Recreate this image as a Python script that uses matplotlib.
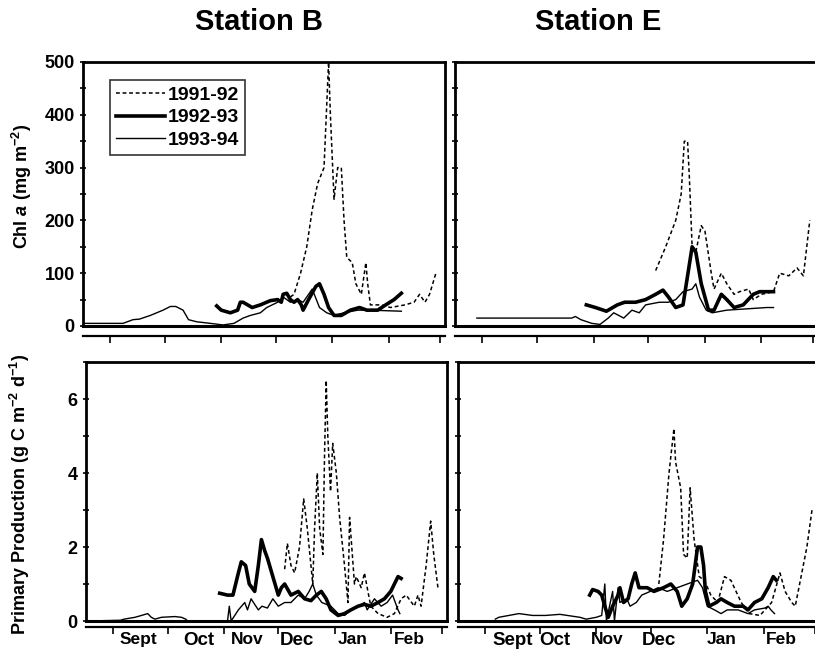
import matplotlib
matplotlib.use("Agg")
import matplotlib.pyplot as plt
from matplotlib.ticker import MultipleLocator

plt.rcParams['font.family'] = ['Liberation Sans', 'DejaVu Sans']
plt.rcParams['mathtext.fontset'] = 'custom'
plt.rcParams['mathtext.rm'] = 'Liberation Sans:bold'
plt.rcParams['mathtext.it'] = 'Liberation Sans:italic:bold'
plt.rcParams['mathtext.bf'] = 'Liberation Sans:bold'

# days counted from 1 September
month_starts = [0, 30, 61, 91, 122, 153, 181]
month_names = ["Sept", "Oct", "Nov", "Dec", "Jan", "Feb"]
seasons = ["1991-92", "1992-93", "1993-94"]

# ---- Station B, Chl a (mg m-2)
b_chl_9192_d = [99, 101, 104.6, 108, 111, 114, 117.5, 120, 121, 123, 125, 127, 128.5, 130,
                133, 135, 138, 140.5, 141.5, 143, 149, 154, 162, 167, 170, 173, 175.5, 179]
b_chl_9192_v = [55, 60, 100, 150, 220, 270, 300, 500, 400, 240, 300, 300, 200, 130,
                120, 80, 60, 120, 80, 40, 40, 35, 40, 45, 60, 45, 60, 100]
b_chl_9293_d = [58.5, 61, 66, 70, 71.5, 73, 78, 82.5, 88, 92, 94, 95, 97, 99, 101, 103, 105,
                106, 109, 113, 115, 117.5, 120, 123, 127, 132, 137, 141, 147, 150.5, 156, 160]
b_chl_9293_v = [38, 30, 25, 30, 45, 45, 35, 40, 48, 50, 45, 60, 62, 50, 45, 50, 40,
                30, 50, 75, 80, 60, 35, 20, 20, 30, 35, 30, 30, 38, 50, 62]
b_chl_9394_d = [-15, 7, 12.5, 16, 22, 29, 33, 36, 40, 43, 47.5, 55, 62, 68, 73, 77, 82.5, 86,
                92, 95, 99, 103, 106, 111, 115, 119, 123, 128.5, 136, 143, 160]
b_chl_9394_v = [5, 5, 12, 13, 20, 30, 37, 37, 30, 12, 8, 5, 2, 5, 15, 20, 25, 35,
                45, 55, 45, 50, 45, 70, 35, 25, 20, 25, 30, 30, 28]

# ---- Station E, Chl a (mg m-2)
e_chl_9192_d = [95, 100.5, 106, 109, 110.7, 112.5, 113.5, 115, 117, 120, 122, 125.5, 127,
                131, 134, 138, 141, 146, 148.5, 153, 159.6, 163, 168, 172.5, 176, 179.5]
e_chl_9192_v = [105, 150, 200, 250, 350, 350, 280, 150, 140, 190, 180, 100, 70,
                100, 80, 60, 65, 70, 50, 60, 65, 100, 95, 110, 95, 200]
e_chl_9293_d = [57, 62, 68, 74, 78, 84, 89.5, 95, 99, 102, 106, 110, 115, 117, 120, 124,
                127, 131, 134, 138, 143, 148.5, 152, 159.6]
e_chl_9293_v = [40, 35, 28, 40, 45, 45, 50, 60, 68, 55, 35, 40, 150, 140, 80, 30,
                30, 60, 50, 35, 40, 60, 65, 65]
e_chl_9394_d = [-3, 49, 51, 54, 60, 64.5, 69, 72, 77.5, 82, 86, 89.5, 97, 102, 106, 110,
                115, 117, 119, 122.7, 126, 134, 156, 159.6]
e_chl_9394_v = [15, 15, 18, 12, 5, 3, 15, 25, 15, 30, 25, 40, 45, 45, 50, 65,
                70, 80, 55, 30, 25, 30, 35, 35]

# ---- Station B, Primary production (g C m-2 d-1)
b_pp_9192_d = [94.5, 96, 98, 100, 102.7, 105, 107, 109, 110, 111, 112.5, 113.8, 115.6, 116.5,
               117.4, 118.3, 119.8, 121, 123, 124.8, 127.5, 129.4, 130.3, 133, 134, 136.7,
               138.5, 140.4, 142, 146, 151, 155, 158.7, 161.5, 166, 168, 169.7, 172.5, 175,
               176.7, 179]
b_pp_9192_v = [1.4, 2.1, 1.5, 1.3, 2.0, 3.3, 2.5, 1.5, 1.0, 2.5, 4.0, 2.5, 1.8, 4.5,
               6.5, 5.0, 3.5, 4.8, 4.0, 2.8, 1.5, 0.5, 2.8, 1.0, 1.2, 0.9,
               1.3, 0.8, 0.4, 0.2, 0.1, 0.2, 0.6, 0.7, 0.4, 0.7, 0.4, 1.5, 2.7,
               1.8, 0.9]
b_pp_9293_d = [58.7, 63, 66, 69, 70.6, 73, 75, 78, 80, 81.7, 83.5, 85, 88, 91, 92.7, 94.5,
               98, 102, 105.5, 109, 112, 114.7, 117.4, 120, 124, 127.5, 131, 135, 138.5,
               142, 146, 149.5, 153, 155, 157, 158.7]
b_pp_9293_v = [0.75, 0.7, 0.7, 1.3, 1.6, 1.5, 1.0, 0.8, 1.5, 2.2, 1.9, 1.7, 1.2, 0.7, 0.9, 1.0,
               0.7, 0.8, 0.6, 0.55, 0.7, 0.8, 0.6, 0.3, 0.15, 0.2, 0.3, 0.4, 0.45,
               0.4, 0.5, 0.6, 0.8, 1.0, 1.2, 1.15]
b_pp_9394_d = [-14, 4, 6, 12, 15.6, 19, 21, 23, 26.6, 34, 37.6, 40, 41, 54, 63, 64, 65, 69,
               72.5, 74, 76, 80, 82, 85, 88, 91, 94.5, 98, 102, 105.5, 108, 110, 112, 115,
               120, 124, 127.5, 131, 135, 138.5, 140, 144, 147.7, 151, 154, 157, 158]
b_pp_9394_v = [0.0, 0.02, 0.05, 0.1, 0.15, 0.2, 0.1, 0.05, 0.1, 0.12, 0.1, 0.05, 0.0, 0.0,
               0.0, 0.4, 0.0, 0.3, 0.5, 0.3, 0.6, 0.3, 0.4, 0.35, 0.6, 0.4, 0.5, 0.5, 0.7,
               0.6, 0.8, 1.0, 0.7, 0.5, 0.4, 0.2, 0.15, 0.3, 0.4, 0.5, 0.3, 0.6, 0.4, 0.5,
               0.7, 0.3, 0.2]

# ---- Station E, Primary production (g C m-2 d-1)
e_pp_9192_d = [95.4, 98, 101, 103.7, 104.6, 107.4, 109, 111, 112.6, 114.8, 117.6, 120.4, 124,
               127.8, 131.5, 135, 140.7, 145, 151, 157.4, 162, 164.8, 168.5, 170.4, 174,
               176.8, 179.6]
e_pp_9192_v = [1.0, 2.2, 4.0, 5.2, 4.3, 3.6, 1.8, 1.7, 3.6, 2.2, 1.2, 1.1, 0.7,
               0.5, 1.2, 1.1, 0.5, 0.2, 0.15, 0.5, 1.3, 0.8, 0.5, 0.4, 1.3,
               2.0, 3.0]
e_pp_9293_d = [57.4, 59, 62, 64, 65.7, 67.6, 70, 73, 74, 76, 78.5, 80.5, 82.4, 84.5, 89, 92.7,
               98, 102, 105.5, 108, 111, 114, 116.7, 118.5, 120, 121, 123, 127, 129.6, 133,
               137, 141.7, 144.4, 148, 152, 155.5, 158.3, 160]
e_pp_9293_v = [0.7, 0.85, 0.8, 0.7, 0.4, 0.1, 0.4, 0.7, 0.9, 0.5, 0.6, 1.0, 1.3, 0.9, 0.9, 0.8,
               0.9, 1.0, 0.8, 0.4, 0.6, 1.0, 2.0, 2.0, 1.5, 0.8, 0.4, 0.5, 0.6, 0.5,
               0.4, 0.4, 0.3, 0.5, 0.6, 0.9, 1.2, 1.1]
e_pp_9394_d = [5.5, 7.4, 18.5, 26, 33, 41, 52, 55.5, 61, 64, 65.7, 66.6, 70, 71, 73, 74,
               77.8, 79.6, 83, 86, 90.7, 95, 100, 105.5, 111, 116.7, 119.4, 122, 126, 129.6,
               133, 139, 144.4, 148, 153.7, 155.5, 157, 159]
e_pp_9394_v = [0.05, 0.1, 0.2, 0.15, 0.15, 0.18, 0.1, 0.05, 0.1, 0.15, 1.0, 0.0, 0.8, 0.0,
               0.9, 0.5, 0.6, 0.4, 0.5, 0.7, 0.8, 0.9, 0.8, 0.9, 1.0, 1.1, 0.9, 0.4, 0.3,
               0.2, 0.3, 0.3, 0.2, 0.3, 0.35, 0.4, 0.3, 0.2]

panels = {
    "B_chl": [(b_chl_9192_d, b_chl_9192_v), (b_chl_9293_d, b_chl_9293_v), (b_chl_9394_d, b_chl_9394_v)],
    "E_chl": [(e_chl_9192_d, e_chl_9192_v), (e_chl_9293_d, e_chl_9293_v), (e_chl_9394_d, e_chl_9394_v)],
    "B_pp": [(b_pp_9192_d, b_pp_9192_v), (b_pp_9293_d, b_pp_9293_v), (b_pp_9394_d, b_pp_9394_v)],
    "E_pp": [(e_pp_9192_d, e_pp_9192_v), (e_pp_9293_d, e_pp_9293_v), (e_pp_9394_d, e_pp_9394_v)],
}

styles = [
    dict(color="k", lw=1.1, ls=(0, (2.5, 1.8))),
    dict(color="k", lw=2.6, ls="-"),
    dict(color="k", lw=1.0, ls="-"),
]

W, H = 815, 652
fig = plt.figure(figsize=(W / 100, H / 100), dpi=100)


def box(left, right, top, bottom):
    return [left / W, 1 - bottom / H, (right - left) / W, (bottom - top) / H]


ax_bc = fig.add_axes(box(83, 445, 62, 326))
ax_ec = fig.add_axes(box(455, 818, 62, 326))
ax_bp = fig.add_axes(box(86, 447, 362, 621))
ax_ep = fig.add_axes(box(458, 820, 362, 621))

# label positions (days) under each bottom panel
lab_pos_b = [14, 47, 74, 101, 132, 163]
lab_pos_e = [15, 38, 67, 95.5, 130, 163]
heavy = {"Oct", "Dec", "Sept"}

for key, ax in [("B_chl", ax_bc), ("E_chl", ax_ec), ("B_pp", ax_bp), ("E_pp", ax_ep)]:
    for (d, v), st, lab in zip(panels[key], styles, seasons):
        ax.plot(d, v, label=lab, **st)
    ax.set_xlim(-15, 184)
    chl = key.endswith("chl")
    if chl:
        ax.set_ylim(0, 500)
        ax.yaxis.set_major_locator(MultipleLocator(100))
        ax.yaxis.set_minor_locator(MultipleLocator(50))
    else:
        ax.set_ylim(0, 7)
        ax.set_yticks([0, 2, 4, 6])
        ax.yaxis.set_minor_locator(MultipleLocator(1))
    for s in ax.spines.values():
        s.set_linewidth(2.0)
    ax.spines["bottom"].set_position(("outward", 7 if chl else 4))
    ax.spines["bottom"].set_linewidth(1.6)
    ax.axhline(0, color="k", lw=2.2, clip_on=False, zorder=5)
    ax.set_xticks(month_starts)
    ax.set_xticklabels([])
    ax.tick_params(axis="x", which="major", direction="out", length=5, width=1.2)
    ax.tick_params(axis="y", which="both", direction="inout", length=5, width=1.2)
    ax.tick_params(axis="y", labelsize=13)
    for t in ax.get_yticklabels():
        t.set_fontweight("bold")

for ax in (ax_ec, ax_ep):
    ax.set_yticklabels([])

for ax, pos in ((ax_bp, lab_pos_b), (ax_ep, lab_pos_e)):
    for name, p in zip(month_names, pos):
        big = name in heavy and (ax is ax_ep or name != "Sept")
        ax.text(p, -0.044, name, transform=ax.get_xaxis_transform(), ha="center", va="top",
                fontsize=13.5 if big else 12.5, fontweight="heavy" if big else "bold")

ax_bc.set_ylabel("Chl $\\mathit{a}$ (mg m$^{-2}$)", fontsize=13, fontweight="bold")
ax_bp.set_ylabel("Primary Production (g C m$^{-2}$ d$^{-1}$)", fontsize=13, fontweight="bold")
ax_bc.yaxis.set_label_coords(-0.135, 0.53)
ax_bp.yaxis.set_label_coords(-0.15, 0.49)

leg = ax_bc.legend(loc="upper left", bbox_to_anchor=(0.075, 0.93), fontsize=14, frameon=True,
                   fancybox=False, edgecolor="k", handlelength=2.5, handletextpad=0.15,
                   borderpad=0.3, labelspacing=0.25, borderaxespad=0)
leg.get_frame().set_linewidth(1.2)
for t in leg.get_texts():
    t.set_fontweight("bold")

fig.text(259 / W, 1 - 22 / H, "Station B", ha="center", va="center", fontsize=21, fontweight="bold")
fig.text(598 / W, 1 - 22 / H, "Station E", ha="center", va="center", fontsize=21, fontweight="bold")

fig.savefig("out.png", dpi=100)
